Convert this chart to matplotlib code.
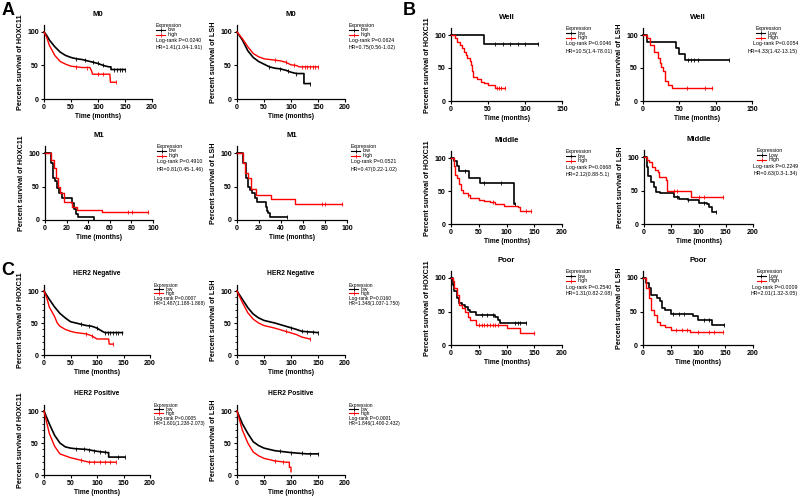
import matplotlib.pyplot as plt
import numpy as np

plt.rcParams['font.family'] = ['Liberation Sans', 'DejaVu Sans']
plt.rcParams['font.weight'] = 'bold'

W, H = 800, 497
BLACK = '#000000'
RED = '#ff0000'

# ---------------- A: M0 / M1 ----------------
m0_hox_low_t = [0, 5, 10, 20, 30, 40, 50, 60, 70, 80, 90, 100, 110, 120, 124, 124, 150]
m0_hox_low_s = [100, 95, 88, 78, 70, 65, 62, 60, 59, 57, 55, 53, 50, 48, 48, 44, 44]
m0_hox_low_c = [60, 75, 90, 100, 110, 130, 135, 140, 145, 150]
m0_hox_high_t = [0, 5, 10, 20, 30, 40, 50, 60, 70, 85, 88, 90, 122, 123, 133]
m0_hox_high_s = [100, 92, 80, 65, 56, 52, 49, 48, 47, 47, 42, 37, 37, 25, 25]
m0_hox_high_c = [60, 80, 100, 110, 133]

m0_lsh_low_t = [0, 10, 20, 30, 40, 50, 60, 70, 80, 90, 100, 110, 124, 124, 135]
m0_lsh_low_s = [100, 88, 72, 62, 56, 52, 48, 46, 45, 43, 40, 38, 38, 23, 23]
m0_lsh_low_c = [60, 80, 95, 110, 135]
m0_lsh_high_t = [0, 10, 20, 30, 40, 50, 60, 70, 80, 90, 100, 110, 115, 150]
m0_lsh_high_s = [100, 90, 78, 68, 63, 60, 59, 58, 57, 55, 51, 50, 48, 48]
m0_lsh_high_c = [70, 90, 105, 120, 125, 130, 135, 140, 145, 150]

m1_hox_low_t = [0, 5, 6, 7, 9, 11, 13, 16, 25, 27, 29, 31, 45]
m1_hox_low_s = [100, 100, 85, 62, 58, 48, 40, 33, 26, 17, 9, 5, 0]
m1_hox_low_c = []
m1_hox_high_t = [0, 6, 8, 10, 12, 14, 18, 25, 30, 53, 95]
m1_hox_high_s = [100, 90, 78, 63, 50, 40, 27, 20, 15, 12, 12]
m1_hox_high_c = [77, 81, 95]

m1_lsh_low_t = [0, 5, 8, 10, 12, 14, 16, 18, 26, 27, 28, 30, 45]
m1_lsh_low_s = [100, 85, 62, 50, 45, 40, 33, 27, 20, 14, 10, 4, 4]
m1_lsh_low_c = [45]
m1_lsh_high_t = [0, 5, 7, 10, 13, 17, 31, 53, 95]
m1_lsh_high_s = [100, 85, 70, 62, 47, 38, 31, 24, 24]
m1_lsh_high_c = [77, 80, 95]

# ---------------- B: Well / Middle / Poor ----------------
well_hox_low_t = [0, 45, 118]
well_hox_low_s = [100, 87, 87]
well_hox_low_c = [60, 70, 80, 90, 100, 118]
well_hox_high_t = [0, 5, 8, 12, 15, 18, 20, 22, 25, 27, 29, 30, 35, 40, 45, 50, 60, 73]
well_hox_high_s = [100, 95, 90, 85, 80, 75, 70, 65, 60, 55, 45, 37, 33, 29, 28, 25, 20, 20]
well_hox_high_c = [62, 65, 68, 73]

well_lsh_low_t = [0, 5, 45, 50, 58, 118]
well_lsh_low_s = [100, 90, 80, 71, 62, 62]
well_lsh_low_c = [62, 66, 70, 75, 118]
well_lsh_high_t = [0, 5, 10, 15, 20, 23, 25, 28, 30, 35, 40, 95]
well_lsh_high_s = [100, 95, 85, 75, 65, 58, 52, 45, 30, 25, 20, 20]
well_lsh_high_c = [60, 85, 95]

mid_hox_low_t = [0, 5, 10, 15, 32, 53, 113, 115]
mid_hox_low_s = [100, 95, 88, 80, 70, 62, 30, 30]
mid_hox_low_c = [25, 60, 90, 115]
mid_hox_high_t = [0, 5, 8, 10, 15, 18, 22, 30, 35, 50, 60, 70, 80, 95, 120, 125, 145]
mid_hox_high_s = [100, 88, 75, 70, 60, 52, 47, 44, 40, 37, 35, 33, 31, 27, 26, 20, 20]
mid_hox_high_c = [30, 75, 135, 145]

mid_lsh_low_t = [0, 5, 8, 12, 18, 22, 30, 55, 65, 80, 100, 115, 120, 125, 133]
mid_lsh_low_s = [100, 85, 72, 62, 55, 48, 46, 40, 37, 36, 32, 30, 25, 18, 18]
mid_lsh_low_c = [60, 80, 110, 133]
mid_lsh_high_t = [0, 5, 10, 15, 20, 25, 28, 40, 42, 87, 145]
mid_lsh_high_s = [100, 95, 92, 85, 80, 77, 70, 65, 50, 40, 40]
mid_lsh_high_c = [55, 60, 100, 110, 145]

poor_hox_low_t = [0, 3, 6, 10, 15, 20, 25, 30, 35, 45, 80, 85, 88, 135]
poor_hox_low_s = [100, 90, 80, 70, 63, 60, 57, 52, 50, 45, 42, 38, 33, 33]
poor_hox_low_c = [55, 65, 75, 115, 120, 125, 135]
poor_hox_high_t = [0, 3, 6, 10, 15, 20, 25, 30, 35, 45, 100, 125, 150]
poor_hox_high_s = [100, 95, 85, 75, 60, 55, 50, 42, 37, 30, 25, 18, 18]
poor_hox_high_c = [50, 55, 60, 65, 70, 75, 80, 85, 150]

poor_lsh_low_t = [0, 5, 10, 15, 25, 30, 35, 40, 50, 90, 100, 125, 148]
poor_lsh_low_s = [100, 92, 85, 75, 70, 65, 55, 52, 47, 43, 38, 30, 30]
poor_lsh_low_c = [55, 65, 75, 110, 120, 148]
poor_lsh_high_t = [0, 5, 10, 15, 20, 25, 30, 40, 50, 85, 145]
poor_lsh_high_s = [100, 85, 70, 52, 45, 35, 30, 27, 23, 20, 20]
poor_lsh_high_c = [60, 70, 80, 100, 120, 130, 145]

# ---------------- C: HER2 ----------------
neg_hox_low_t = [0, 10, 20, 30, 40, 50, 60, 70, 80, 90, 100, 110, 115, 148]
neg_hox_low_s = [100, 87, 75, 65, 58, 52, 50, 48, 46, 45, 42, 37, 35, 35]
neg_hox_low_c = [70, 85, 100, 115, 120, 125, 130, 135, 140, 148]
neg_hox_high_t = [0, 5, 10, 20, 25, 30, 40, 50, 60, 80, 90, 100, 122, 123, 130]
neg_hox_high_s = [100, 90, 75, 60, 50, 45, 40, 37, 35, 33, 30, 25, 25, 17, 17]
neg_hox_high_c = [80, 90, 130]

neg_lsh_low_t = [0, 10, 20, 30, 40, 50, 70, 90, 110, 120, 150]
neg_lsh_low_s = [100, 87, 74, 64, 58, 54, 50, 45, 40, 37, 35]
neg_lsh_low_c = [100, 120, 130, 140, 150]
neg_lsh_high_t = [0, 10, 20, 30, 40, 50, 70, 90, 110, 120, 135]
neg_lsh_high_s = [100, 82, 66, 56, 50, 46, 42, 37, 32, 28, 25]
neg_lsh_high_c = [90, 135]

pos_hox_low_t = [0, 10, 20, 30, 40, 50, 60, 80, 100, 120, 122, 122, 152]
pos_hox_low_s = [100, 80, 62, 50, 44, 42, 41, 40, 37, 35, 35, 28, 28]
pos_hox_low_c = [60, 75, 85, 95, 105, 115, 140, 152]
pos_hox_high_t = [0, 10, 20, 30, 40, 50, 60, 70, 85, 135]
pos_hox_high_s = [100, 65, 45, 33, 30, 27, 25, 23, 20, 20]
pos_hox_high_c = [70, 85, 95, 105, 115, 125, 135]

pos_lsh_low_t = [0, 10, 20, 30, 40, 50, 70, 100, 130, 150]
pos_lsh_low_s = [100, 80, 65, 52, 46, 42, 38, 35, 33, 33]
pos_lsh_low_c = [80, 100, 120, 135, 150]
pos_lsh_high_t = [0, 10, 20, 30, 40, 50, 70, 90, 97, 97, 100, 100]
pos_lsh_high_s = [100, 70, 50, 36, 30, 26, 22, 20, 20, 12, 12, 5]
pos_lsh_high_c = [70, 85]

titles = ['M0', 'M0', 'M1', 'M1',
          'Well', 'Well', 'Middle', 'Middle', 'Poor', 'Poor',
          'HER2 Negative', 'HER2 Negative', 'HER2 Positive', 'HER2 Positive']
genes = ['HOXC11', 'LSH'] * 7
xmaxes = [200, 200, 100, 100, 150, 150, 200, 200, 200, 200, 200, 200, 200, 200]
xsteps = [50, 50, 20, 20, 50, 50, 50, 50, 50, 50, 50, 50, 50, 50]
level_labels = [('low', 'high')] * 4 + [('low', 'high'), ('Low', 'High')] * 3 + [('low', 'high')] * 4
logrank = ['Log-rank P=0.0240', 'Log-rank P=0.0624', 'Log-rank P=0.4910', 'Log-rank P=0.0521',
           'Log-rank P=0.0046', 'Log-rank P=0.0054', 'Log-rank P=0.0668', 'Log-rank P=0.2249',
           'Log-rank P=0.2540', 'Log-rank P=0.0009',
           'Log-rank P=0.0007', 'Log-rank P=0.0160', 'Log-rank P=0.0005', 'Log-rank P=0.0001']
hazard = ['HR=1.41(1.04-1.91)', 'HR=0.75(0.56-1.02)', 'HR=0.81(0.45-1.46)', 'HR=0.47(0.22-1.02)',
          'HR=10.5(1.4-78.01)', 'HR=4.33(1.42-13.15)', 'HR=2.12(0.88-5.1)', 'HR=0.63(0.3-1.34)',
          'HR=1.31(0.82-2.08)', 'HR=2.01(1.32-3.05)',
          'HR=1.487(1.188-1.868)', 'HR=1.348(1.037-1.750)', 'HR=1.601(1.238-2.073)',
          'HR=1.846(1.400-2.432)']
curves = [
    [(m0_hox_low_t, m0_hox_low_s, m0_hox_low_c), (m0_hox_high_t, m0_hox_high_s, m0_hox_high_c)],
    [(m0_lsh_low_t, m0_lsh_low_s, m0_lsh_low_c), (m0_lsh_high_t, m0_lsh_high_s, m0_lsh_high_c)],
    [(m1_hox_low_t, m1_hox_low_s, m1_hox_low_c), (m1_hox_high_t, m1_hox_high_s, m1_hox_high_c)],
    [(m1_lsh_low_t, m1_lsh_low_s, m1_lsh_low_c), (m1_lsh_high_t, m1_lsh_high_s, m1_lsh_high_c)],
    [(well_hox_low_t, well_hox_low_s, well_hox_low_c), (well_hox_high_t, well_hox_high_s, well_hox_high_c)],
    [(well_lsh_low_t, well_lsh_low_s, well_lsh_low_c), (well_lsh_high_t, well_lsh_high_s, well_lsh_high_c)],
    [(mid_hox_low_t, mid_hox_low_s, mid_hox_low_c), (mid_hox_high_t, mid_hox_high_s, mid_hox_high_c)],
    [(mid_lsh_low_t, mid_lsh_low_s, mid_lsh_low_c), (mid_lsh_high_t, mid_lsh_high_s, mid_lsh_high_c)],
    [(poor_hox_low_t, poor_hox_low_s, poor_hox_low_c), (poor_hox_high_t, poor_hox_high_s, poor_hox_high_c)],
    [(poor_lsh_low_t, poor_lsh_low_s, poor_lsh_low_c), (poor_lsh_high_t, poor_lsh_high_s, poor_lsh_high_c)],
    [(neg_hox_low_t, neg_hox_low_s, neg_hox_low_c), (neg_hox_high_t, neg_hox_high_s, neg_hox_high_c)],
    [(neg_lsh_low_t, neg_lsh_low_s, neg_lsh_low_c), (neg_lsh_high_t, neg_lsh_high_s, neg_lsh_high_c)],
    [(pos_hox_low_t, pos_hox_low_s, pos_hox_low_c), (pos_hox_high_t, pos_hox_high_s, pos_hox_high_c)],
    [(pos_lsh_low_t, pos_lsh_low_s, pos_lsh_low_c), (pos_lsh_high_t, pos_lsh_high_s, pos_lsh_high_c)],
]
# dense cohorts are drawn as smooth lines, small cohorts as steps
dense = [True, True, False, False, False, False, False, False, False, False, True, True, True, True]

# axes placement in pixels: left, right, y of 0, y of 100
boxes = [(44, 152, 99, 32), (237, 345, 99, 32), (45, 153, 220, 153), (237, 347, 220, 153),
         (451, 562, 101, 35), (643, 752, 101, 35), (451, 562, 224, 158), (644, 753, 224, 157),
         (451, 562, 345, 278), (643, 753, 345, 278),
         (44, 150, 355, 291), (237, 345, 355, 291), (44, 150, 475, 411), (237, 345, 475, 411)]

fig = plt.figure(figsize=(W / 100, H / 100), dpi=100)


def step_value(t, s, c, smooth):
    t = np.asarray(t, float)
    s = np.asarray(s, float)
    c = np.asarray(c, float)
    if smooth:
        return np.interp(c, t, s)
    idx = np.clip(np.searchsorted(t, c, side='right') - 1, 0, len(s) - 1)
    return s[idx]


for i in range(len(titles)):
    x0, x1, yb, y100 = boxes[i]
    hp = (yb - y100) * 1.1
    ax = fig.add_axes([x0 / W, 1 - yb / H, (x1 - x0) / W, hp / H])
    for (t, s, c), col, lw in zip(curves[i], [BLACK, RED], [1.2, 1.0]):
        ax.plot(t, s, color=col, lw=lw, drawstyle='default' if dense[i] else 'steps-post',
                clip_on=False, zorder=3 if col == RED else 2)
        if len(c):
            ax.plot(c, step_value(t, s, c, dense[i]), ls='none', marker='|', ms=2.4,
                    mew=0.6, color=col, clip_on=False)
    ax.set_xlim(0, xmaxes[i])
    ax.set_ylim(0, 110)
    ax.set_xticks(np.arange(0, xmaxes[i] + 1, xsteps[i]))
    ax.set_yticks([0, 50, 100])
    if i >= 10:
        ax.set_yticks(np.arange(0, 101, 10), minor=True)
        ax.tick_params(axis='y', which='minor', length=1.2, width=0.6)
    for sp in ['top', 'right']:
        ax.spines[sp].set_visible(False)
    for sp in ['left', 'bottom']:
        ax.spines[sp].set_linewidth(0.9)
    ax.tick_params(which='major', labelsize=5.0, length=2.5, width=0.8, pad=1.2)
    for lab in ax.get_xticklabels() + ax.get_yticklabels():
        lab.set_fontweight('bold')
    ax.set_xlabel('Time (months)', fontsize=4.8, fontweight='bold', labelpad=1.5)
    ax.set_ylabel('Percent survival of ' + genes[i], fontsize=5.2, fontweight='bold', labelpad=2)
    ax.set_title(titles[i], fontsize=4.8 if i >= 10 else 5.6, fontweight='bold', pad=7)

    # legend block to the right of the axes
    sc = 0.8 if i >= 10 else 1.0
    fs = 3.5 if i >= 10 else 3.8
    offs = [-6.5, -2.0, 2.6, 9.0, 16.0]
    ys = [(yb - (y100 + o * sc)) / hp for o in offs]
    xl = 1 + 4 / (x1 - x0)
    dx = 1 / (x1 - x0)
    ax.text(xl, ys[0], 'Expression', fontsize=fs, fontweight='normal', va='center',
            transform=ax.transAxes, clip_on=False)
    for k, col in enumerate([BLACK, RED]):
        ax.plot([xl, xl + 9 * dx], [ys[1 + k]] * 2, color=col, lw=0.8,
                transform=ax.transAxes, clip_on=False)
        ax.plot([xl + 4.5 * dx], [ys[1 + k]], marker='|', ms=2.2, mew=0.6, color=col,
                transform=ax.transAxes, clip_on=False)
        ax.text(xl + 12 * dx, ys[1 + k], level_labels[i][k], fontsize=fs, fontweight='normal',
                va='center', transform=ax.transAxes, clip_on=False)
    # right-column stats of panel B sit against the figure edge
    if i in (5, 7, 9):
        sx, ha = 1 + (798 - x1) * dx, 'right'
    else:
        sx, ha = xl, 'left'
    ax.text(sx, ys[3], logrank[i], fontsize=fs, fontweight='normal', va='center', ha=ha,
            transform=ax.transAxes, clip_on=False)
    ax.text(sx, ys[4], hazard[i], fontsize=fs, fontweight='normal', va='center', ha=ha,
            transform=ax.transAxes, clip_on=False)

for letter, (px, py) in zip(['A', 'B', 'C'], [(2, 2), (403, 2), (1, 262)]):
    fig.text(px / W, 1 - py / H, letter, fontsize=13, fontweight='bold', va='top', ha='left')

fig.savefig('out.png', dpi=100)
